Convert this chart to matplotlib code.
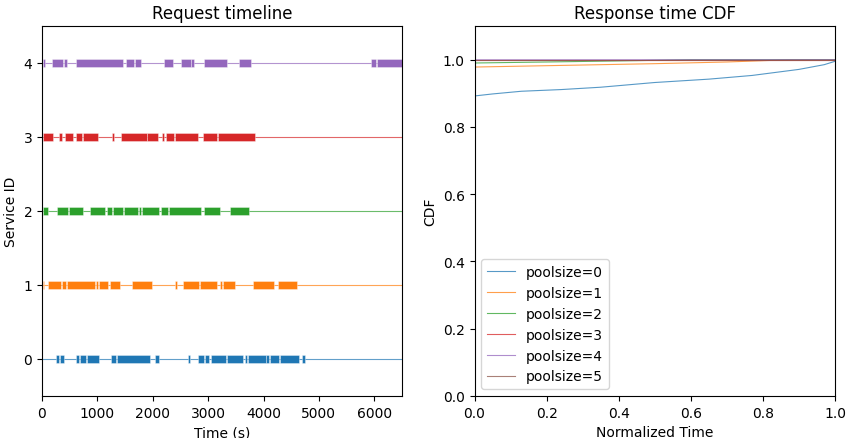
import numpy as np
import matplotlib
matplotlib.use("Agg")
import matplotlib.pyplot as plt

# === Request timeline data: (start, end) in seconds per service ===
service_ids = [0, 1, 2, 3, 4]

service0_requests = [(253, 313), (325, 403), (620, 662), (686, 794), (806, 1023),
                     (1252, 1336), (1348, 1955), (2040, 2112), (2630, 2672),
                     (2811, 2925), (2937, 3021), (3045, 3322), (3334, 3635),
                     (3659, 3701), (3714, 4038), (4050, 4104), (4116, 4285),
                     (4297, 4640), (4694, 4748)]
service1_requests = [(12, 36), (103, 343), (367, 428), (445, 957), (970, 1017),
                     (1035, 1192), (1228, 1414), (1625, 1986), (2401, 2437),
                     (2546, 2835), (2853, 3160), (3214, 3250), (3268, 3485),
                     (3810, 4194), (4256, 4610)]
service2_requests = [(12, 103), (265, 475), (487, 740), (861, 1137), (1174, 1264),
                     (1276, 1468), (1480, 1739), (1757, 1787), (1800, 2112),
                     (2149, 2275), (2293, 2871), (2919, 3219), (3394, 3732)]
service3_requests = [(12, 193), (307, 361), (415, 565), (614, 717), (735, 1017),
                     (1258, 1300), (1426, 1890), (1901, 2094), (2167, 2203),
                     (2239, 2383), (2395, 2817), (2901, 3160), (3172, 3846)]
service4_requests = [(12, 48), (175, 375), (403, 445), (608, 1468), (1511, 1661),
                     (1679, 1782), (2203, 2360), (2510, 2685), (2690, 2745),
                     (2919, 3340), (3551, 3779), (5940, 6030), (6043, 6520)]

all_requests = [service0_requests, service1_requests, service2_requests,
                service3_requests, service4_requests]

# === Response time CDF data ===
pool_sizes = [0, 1, 2, 3, 4, 5]
cdf_x0 = [0.0, 0.05, 0.13, 0.24, 0.35, 0.5, 0.65, 0.77, 0.9, 0.97, 1.0]
cdf_y0 = [0.892, 0.898, 0.906, 0.911, 0.918, 0.932, 0.942, 0.953, 0.971, 0.985, 0.995]
cdf_x1 = [0.0, 0.25, 0.5, 0.7, 0.88, 1.0]
cdf_y1 = [0.978, 0.983, 0.988, 0.993, 1.0, 1.0]
cdf_x2 = [0.0, 0.2, 0.45, 0.6, 1.0]
cdf_y2 = [0.990, 0.993, 0.997, 1.0, 1.0]
cdf_x3 = [0.0, 1.0]
cdf_y3 = [1.0, 1.0]
cdf_x4 = [0.0, 1.0]
cdf_y4 = [0.9995, 1.0]
cdf_x5 = [0.0, 1.0]
cdf_y5 = [1.0, 1.0]

cdf_xs = [cdf_x0, cdf_x1, cdf_x2, cdf_x3, cdf_x4, cdf_x5]
cdf_ys = [cdf_y0, cdf_y1, cdf_y2, cdf_y3, cdf_y4, cdf_y5]

colors = plt.rcParams['axes.prop_cycle'].by_key()['color']

fig = plt.figure(figsize=(8.48, 4.39), dpi=100)
ax1 = fig.add_axes([42 / 848, 1 - 397 / 439, 360 / 848, 370 / 439])
ax2 = fig.add_axes([474.5 / 848, 1 - 397 / 439, 360.5 / 848, 370 / 439])

# --- left: request timeline ---
for sid, reqs in zip(service_ids, all_requests):
    c = colors[sid]
    ax1.axhline(sid, color=c, linewidth=0.8, alpha=0.7, zorder=1)
    spans = [(s, e - s) for s, e in reqs]
    ax1.broken_barh(spans, (sid - 0.055, 0.11), facecolors=c,
                    edgecolor=(1, 1, 1, 0.5), linewidth=0.5, zorder=2)

ax1.set_xlim(0, 6500)
ax1.set_ylim(-0.5, 4.5)
ax1.set_yticks(service_ids)
ax1.set_xlabel("Time (s)")
ax1.set_ylabel("Service ID")
ax1.set_title("Request timeline")

# --- right: CDF ---
for ps, xs, ys in zip(pool_sizes, cdf_xs, cdf_ys):
    ax2.plot(xs, ys, color=colors[ps], linewidth=0.8, alpha=0.75,
             label=f"poolsize={ps}")

ax2.set_xlim(0, 1)
ax2.set_ylim(0, 1.1)
ax2.set_xlabel("Normalized Time")
ax2.set_ylabel("CDF")
ax2.set_title("Response time CDF")
ax2.legend(loc="lower left")

fig.savefig("out.png", dpi=100)
